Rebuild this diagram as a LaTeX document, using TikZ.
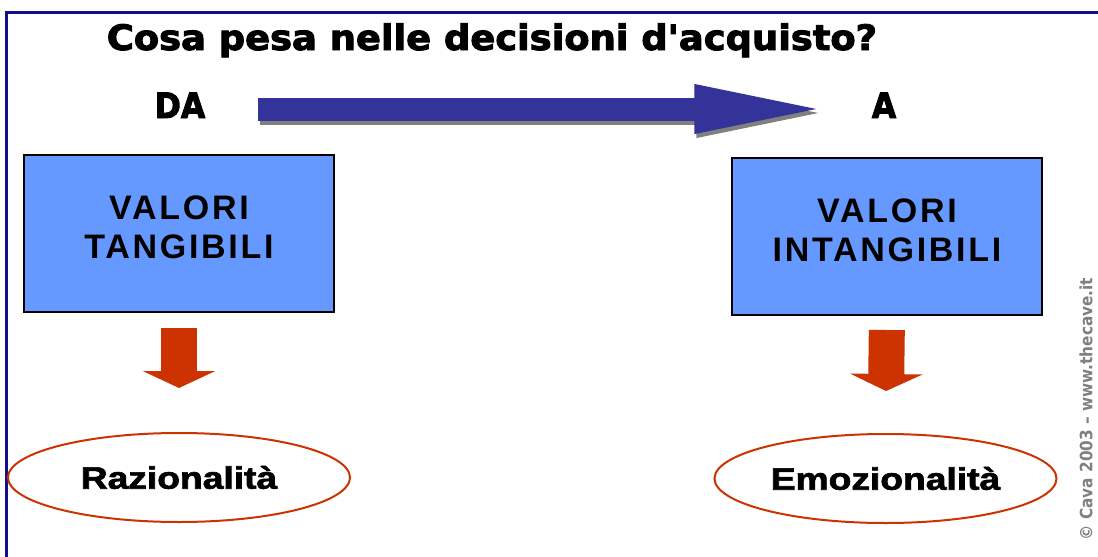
\documentclass[tikz,border=0pt]{standalone}
\usepackage{fontspec}
\setmainfont{Liberation Sans}
\newfontfamily\condfont[BoldFeatures={FakeBold=2.5}]{DejaVu Sans Condensed}
\newfontfamily\creditfont{DejaVu Sans Condensed}
\newfontfamily\blackfont[BoldFeatures={FakeBold=2}]{Liberation Sans}
\newfontfamily\spacedfont[LetterSpace=8]{Liberation Sans}
\usepackage{tikz}
\usetikzlibrary{shapes.geometric,arrows.meta,positioning,calc}
\definecolor{framenavy}{RGB}{16,16,138}
\definecolor{boxblue}{RGB}{102,153,255}
\definecolor{shaftblue}{RGB}{51,51,153}
\definecolor{brick}{RGB}{204,51,0}
\definecolor{shadowgray}{RGB}{128,128,128}

\begin{document}
\begin{tikzpicture}
  [
    x=0.5pt, y=-0.5pt,
    headline/.style =
      {font=\condfont\bfseries\fontsize{17.5}{20}\selectfont, inner sep=0pt},
    valbox/.style =
      {draw, fill=boxblue, line width=1pt, minimum width=155pt,
       minimum height=78.5pt, align=center, inner sep=0pt,
       font=\spacedfont\bfseries\fontsize{17}{19.5}\selectfont},
    outcome/.style =
      {ellipse, draw=brick, fill=white, line width=1pt, minimum width=171pt,
       minimum height=44.5pt, inner sep=0pt,
       font=\blackfont\bfseries\fontsize{15.5}{18}\selectfont},
    downarrow/.style =
      {brick, line width=18pt, -{Triangle[length=8.5pt, width=36pt]}},
    fromto/.style =
      {line width=11.5pt, -{Triangle[length=72.5pt, width=21pt]}}
  ]
  \useasboundingbox (0, 0) rectangle (1098, 557);
  \draw [framenavy, line width=1.5pt] (1098, 12) -- (6, 12) -- (6, 557);

  \node [headline, anchor=base] (title) at (492, 50)
    {\scalebox{1.17}[1]{Cosa pesa nelle decisioni d'acquisto?}};

  \node [headline, anchor=base] (da) at (180, 118) {DA};
  \node [headline, anchor=base] (a) at (884, 118) {A};

  \coordinate (start) at ($(da.east |- 0, 109) + (52, 0)$);
  \coordinate (stop) at ($(a.west |- 0, 109) + (-32, 0)$);
  \draw [fromto, shadowgray] ($(start) + (2, 4)$) -- ($(stop) + (2, 4)$);
  \draw [fromto, shaftblue] (start) -- (stop);

  \node [valbox] (tang) at (179, 233.5)
    {VALORI\\TANGIBILI\rule[-6pt]{0pt}{0pt}};
  \node [valbox] (intang) at (887, 236.5)
    {VALORI\\INTANGIBILI\rule[-6pt]{0pt}{0pt}};

  \node [outcome] (raz) at (179, 477.5)
    {\scalebox{1.2}[1]{Razionalità}};
  \node [outcome] (emo) at (885.5, 478.5)
    {\scalebox{1.2}[1]{Emozionalità}};

  \draw [downarrow, shorten <=7.5pt, shorten >=22pt] (tang.south) -- (raz.north);
  \draw [downarrow, shorten <=7pt, shorten >=21pt] (intang.south) -- (emo.north);

  \node [rotate=90, text=shadowgray, inner sep=0pt,
         font=\creditfont\bfseries\fontsize{8.5}{10}\selectfont] (credit)
    at (1086, 409) {© Cava 2003 – www.thecave.it};
\end{tikzpicture}
\end{document}
